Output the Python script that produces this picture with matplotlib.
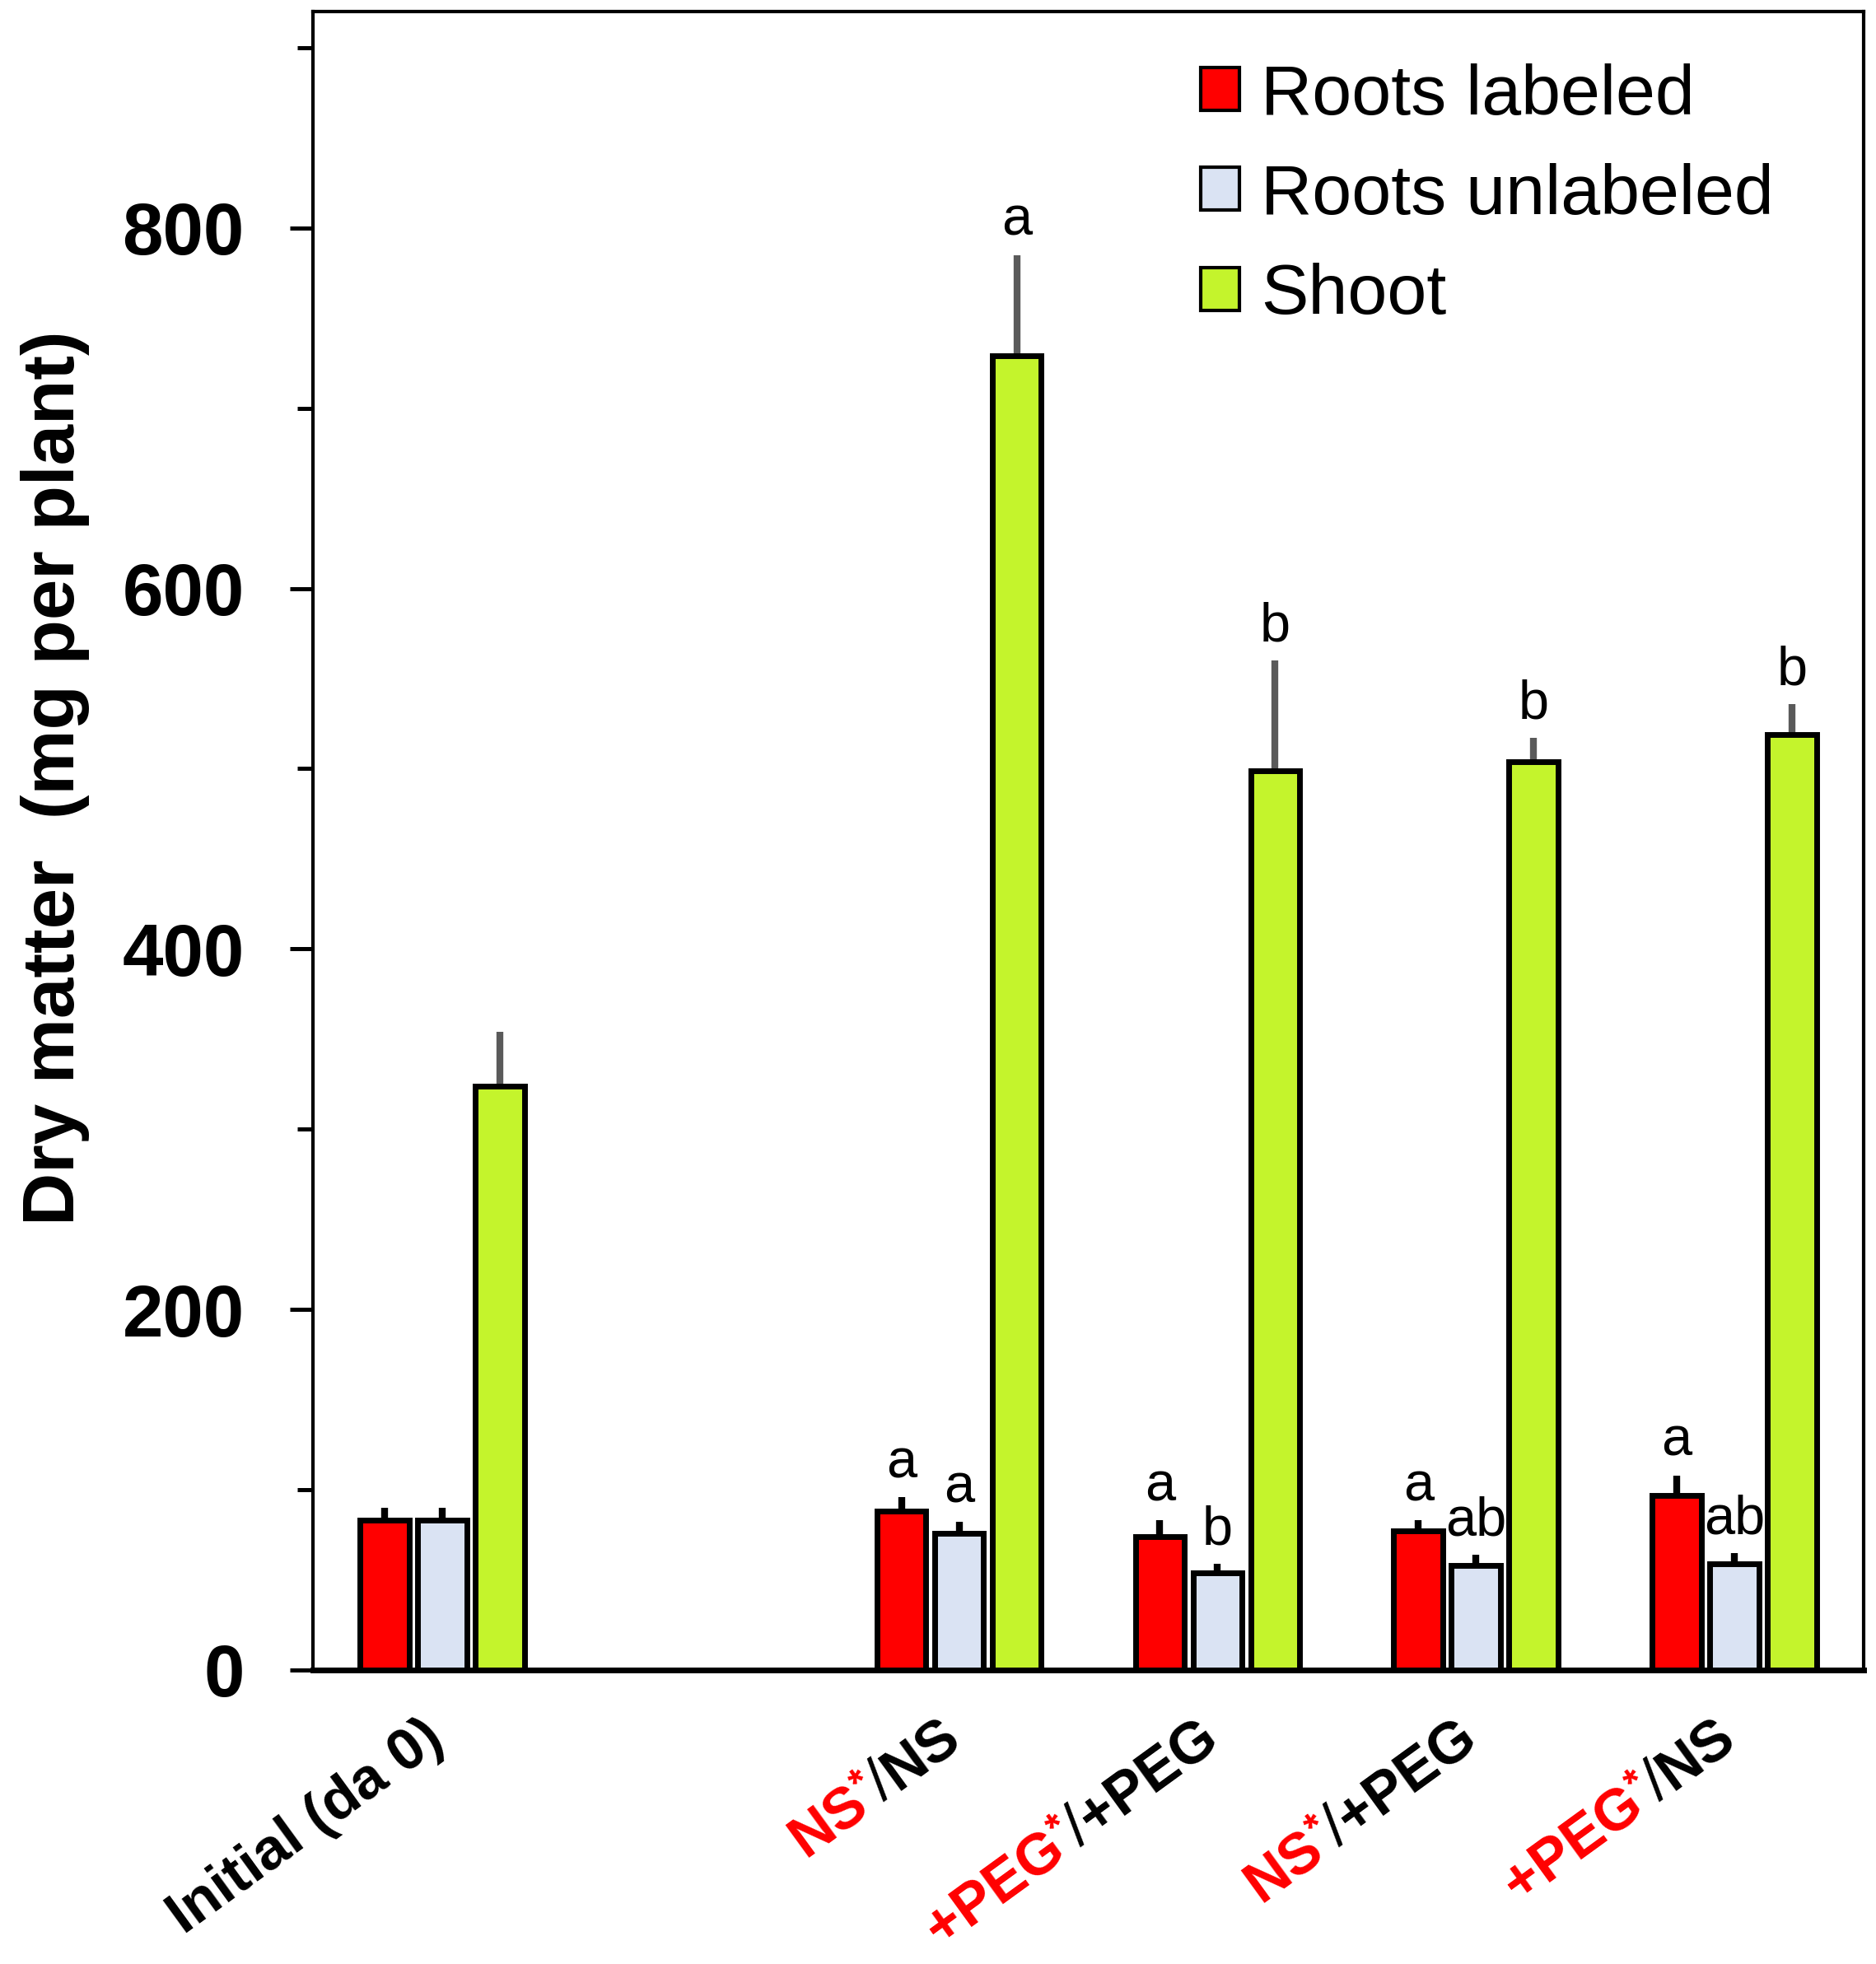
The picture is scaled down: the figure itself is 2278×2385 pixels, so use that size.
import numpy as np
import matplotlib.pyplot as plt
import matplotlib.transforms as mtransforms
from matplotlib.patches import Patch
from matplotlib.ticker import MultipleLocator

plt.rcParams["font.family"] = ["Liberation Sans", "DejaVu Sans"]

# treatment slots on the x axis (slot 1 is left empty)
POS = [0, 2, 3, 4, 5]
LABEL_RED = ["", "NS*", "+PEG*", "NS*", "+PEG*"]
LABEL_BLACK = ["Initial (da 0)", "/NS", "/+PEG", "/+PEG", "/NS"]
SERIES = ["Roots labeled", "Roots unlabeled", "Shoot"]

roots_lab = [83, 88, 74, 77, 97]
roots_lab_err = [7, 8, 9, 6, 11]
roots_unlab = [83, 76, 54, 58, 59]
roots_unlab_err = [7, 6, 5, 6, 6]
shoot = [324, 729, 499, 504, 519]
shoot_err = [30, 56, 61, 13, 17]

letters_lab = ["", "a", "a", "a", "a"]
letters_unlab = ["", "a", "b", "ab", "ab"]
letters_shoot = ["", "a", "b", "b", "b"]

COLORS = ["#ff0000", "#dae3f3", "#c4f42c"]
ERR_C = ["black", "black", "#5a5a5a"]

fig = plt.figure(figsize=(22.78, 23.85), dpi=100)
ax = fig.add_axes([0.1668, 0.1497, 0.8266, 0.8444])

x = np.array(POS, dtype=float)
W, OFF = 0.19, 0.223
groups = [(roots_lab, roots_lab_err, letters_lab),
          (roots_unlab, roots_unlab_err, letters_unlab),
          (shoot, shoot_err, letters_shoot)]
for i, (vals, errs, lets) in enumerate(groups):
    xs = x + (i - 1) * OFF
    ax.bar(xs, vals, W, color=COLORS[i], edgecolor="black", linewidth=5,
           zorder=3)
    ax.errorbar(xs, vals, yerr=[np.zeros(len(vals)), errs], fmt="none",
                ecolor=ERR_C[i], elinewidth=6, capsize=0, zorder=2)
    for xi, v, e, t in zip(xs, vals, errs, lets):
        if t:
            ax.annotate(t, (xi, v + e), xytext=(0, 17), textcoords="offset points",
                        ha="center", va="baseline", fontsize=48)

ax.set_xlim(-0.5, 5.5)
ax.set_ylim(0, 920)
ax.set_yticks(np.arange(0, 801, 200))
ax.set_yticklabels([str(v) for v in range(0, 801, 200)], fontsize=64,
                   fontweight="bold")
ax.yaxis.set_minor_locator(MultipleLocator(100))
ax.tick_params(axis="y", which="major", length=20, width=3.6, pad=40)
ax.tick_params(axis="y", which="minor", length=14, width=3.6)
ax.set_xticks([])
for side in ["top", "left", "right"]:
    ax.spines[side].set_linewidth(3)
ax.spines["bottom"].set_linewidth(5)

ax.set_ylabel("Dry matter  (mg per plant)", fontsize=64, fontweight="bold")
ax.yaxis.set_label_coords(-0.144, 0.538)

handles = [Patch(facecolor=c, edgecolor="black", linewidth=3) for c in COLORS]
ax.legend(handles, SERIES, loc="upper left", bbox_to_anchor=(0.5725, 0.969),
          frameon=False, fontsize=62, handlelength=0.55, handleheight=0.55,
          handletextpad=0.3, labelspacing=0.48, borderpad=0, borderaxespad=0)

# rotated category labels built from pieces (red treatment, raised small *,
# thin slash, black rest), chained right-to-left along the baseline
fig.canvas.draw()
rend = fig.canvas.get_renderer()
base = ax.get_xaxis_transform()
ANG = 36
DX, DY = 5, 90
XFS = 51
PT = fig.dpi / 72
ca, sa = np.cos(np.radians(ANG)), np.sin(np.radians(ANG))


def pieces(red, blk):
    out = []
    if red:
        out.append((red.rstrip("*"), "#ff0000", "bold", 1.0, 0.0))
        if red.endswith("*"):
            out.append(("*", "#ff0000", "bold", 0.68, 0.32))
    if blk.startswith("/"):
        out.append(("/", "black", "normal", 1.05, 0.0))
        blk = blk[1:]
    out.append((blk, "black", "bold", 1.0, 0.0))
    return out


def text_width(s, fs, weight):
    tmp = ax.text(0, 0, s, fontsize=fs, fontweight=weight)
    w = tmp.get_window_extent(renderer=rend).width
    tmp.remove()
    return w


for xi, red, blk in zip(POS, LABEL_RED, LABEL_BLACK):
    px, py = DX, -DY
    for s, col, wt, scale, rise in reversed(pieces(red, blk)):
        fs = XFS * scale
        r = rise * XFS * PT
        tr = mtransforms.offset_copy(base, fig=fig, x=px - r * sa, y=py + r * ca,
                                     units="dots")
        ax.text(xi, 0, s, transform=tr, rotation=ANG, rotation_mode="anchor",
                ha="right", va="baseline", fontsize=fs, fontweight=wt,
                color=col, clip_on=False)
        w = text_width(s, fs, wt)
        px -= w * ca
        py -= w * sa

fig.savefig("out.png", dpi=100)
